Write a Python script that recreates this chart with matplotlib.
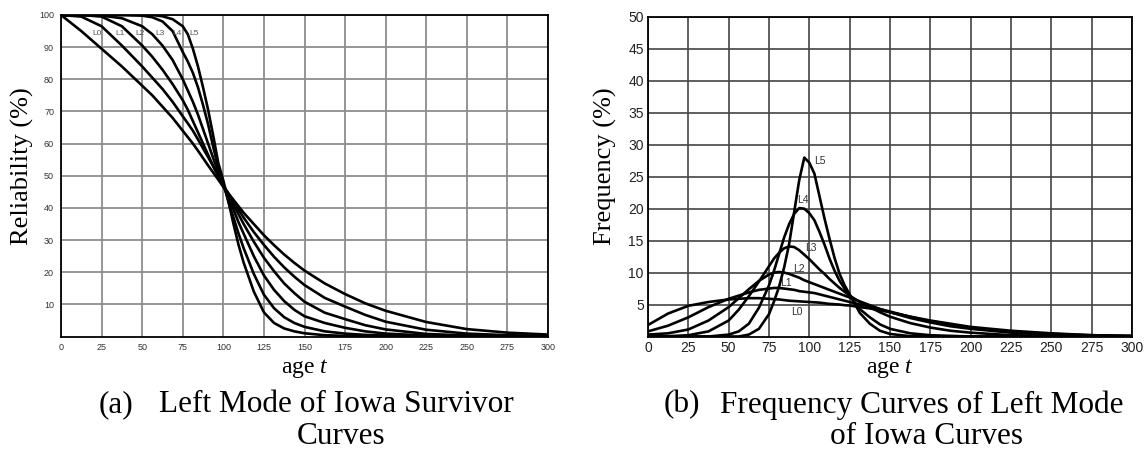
import matplotlib
matplotlib.use("Agg")
import matplotlib.pyplot as plt

# ---------------- data ----------------
# (a) survivor curves, reliability (%) vs age
age_s = [0, 12.5, 25, 37.5, 50, 56.25, 62.5, 68.75, 75, 78.125, 81.25, 84.375,
         87.5, 90.625, 93.75, 96.875, 100, 103.125, 106.25, 109.375, 112.5,
         118.75, 125, 131.25, 137.5, 143.75, 150, 162.5, 175, 187.5, 200,
         225, 250, 275, 300]
rel_L0 = [100, 95, 89.5, 84, 78, 75, 71.5, 68, 64, 62, 60, 57.8,
          55.5, 53.2, 51, 48.8, 46.5, 44.5, 42.5, 40.5, 38.5,
          35, 31.5, 28.4, 25.5, 22.9, 20.5, 16.5, 13.2, 10.3, 8,
          4.5, 2.3, 1.2, 0.6]
rel_L1 = [100, 99.5, 96.5, 90.5, 84, 80.5, 77, 73, 68.5, 66.3, 64, 61.3,
          58.5, 55.8, 53, 50, 47, 44.5, 42, 39.5, 37,
          32.5, 28.5, 24.8, 21.5, 18.6, 16, 12, 9.3, 6.7, 4.6,
          2.1, 0.9, 0.4, 0.2]
rel_L2 = [100, 100, 99.5, 96.5, 90.5, 87, 83, 78.5, 73.5, 70.5, 67, 63.5,
          60, 56.5, 53, 50, 47, 44, 41, 38, 35,
          29.5, 24.5, 20.3, 16.5, 13.5, 10.8, 7.4, 5.4, 3.5, 2.2,
          0.8, 0.3, 0.1, 0]
rel_L3 = [100, 100, 99.8, 99, 96.5, 94, 90.5, 86, 80, 76.5, 73, 69,
          64.5, 60, 55.5, 51, 47, 43, 39.5, 35.5, 32,
          25, 19, 14.5, 11, 8.3, 6.3, 4.2, 2.7, 1.6, 0.9,
          0.3, 0.1, 0, 0]
rel_L4 = [100, 100, 100, 100, 99.8, 99.3, 98, 95, 88.5, 85.5, 82, 77.5,
          72, 66, 59, 52.5, 47.5, 42, 37, 32, 27.5,
          19.5, 13, 8.8, 6, 4.2, 3, 1.6, 0.9, 0.5, 0.3,
          0.1, 0, 0, 0]
rel_L5 = [100, 100, 100, 100, 100, 100, 99.6, 98.7, 96.5, 94, 89.5, 84,
          77.5, 70.5, 62.5, 54, 48.5, 42, 35, 28.5, 23,
          14, 7.5, 4.2, 2.5, 1.6, 1.0, 0.4, 0.2, 0.1, 0,
          0, 0, 0, 0]

# (b) frequency curves, frequency (%) vs age
age_f = [0, 12.5, 25, 37.5, 50, 56.25, 62.5, 68.75, 75, 78.125, 81.25, 84.375,
         87.5, 90.625, 93.75, 96.875, 100, 103.125, 106.25, 109.375, 112.5,
         115.625, 118.75, 121.875, 125, 131.25, 137.5, 143.75, 150, 162.5,
         175, 187.5, 200, 225, 250, 275, 300]
freq_L0 = [1.8, 3.6, 4.8, 5.4, 5.8, 5.9, 6.0, 6.0, 5.9, 5.85, 5.8, 5.7,
           5.6, 5.55, 5.5, 5.45, 5.4, 5.35, 5.3, 5.2, 5.1,
           5.05, 5.0, 4.9, 4.85, 4.6, 4.4, 4.1, 3.8, 3.1,
           2.5, 2.0, 1.5, 0.9, 0.5, 0.2, 0.1]
freq_L1 = [0.8, 1.7, 3.0, 4.6, 5.9, 6.4, 6.9, 7.3, 7.5, 7.6, 7.6, 7.5,
           7.4, 7.3, 7.1, 7.0, 6.9, 6.8, 6.6, 6.4, 6.2,
           6.0, 5.8, 5.6, 5.4, 5.0, 4.7, 4.3, 3.9, 3.1,
           2.4, 1.8, 1.3, 0.7, 0.4, 0.2, 0.1]
freq_L2 = [0.3, 0.5, 1.1, 2.5, 4.6, 6.0, 7.4, 8.7, 9.7, 10.0, 10.1, 10.0,
           9.8, 9.5, 9.2, 8.8, 8.5, 8.2, 7.9, 7.6, 7.3,
           7.0, 6.7, 6.4, 6.1, 5.5, 4.9, 4.3, 3.8, 2.9,
           2.2, 1.6, 1.2, 0.6, 0.3, 0.1, 0]
freq_L3 = [0, 0.05, 0.2, 0.8, 2.5, 4.2, 6.3, 8.6, 11.0, 12.2, 13.1, 13.8,
           14.1, 14.0, 13.5, 12.8, 12.1, 11.3, 10.5, 9.8, 9.0,
           8.3, 7.6, 7.0, 6.4, 5.4, 4.6, 3.8, 3.1, 2.1,
           1.4, 0.9, 0.6, 0.2, 0.1, 0, 0]
freq_L4 = [0, 0, 0, 0, 0.3, 0.8, 2.0, 4.5, 8.0, 10.3, 12.9, 15.5,
           17.6, 19.2, 20.1, 20.0, 19.3, 18.2, 16.4, 14.4, 12.2,
           10.3, 8.7, 7.5, 6.4, 4.3, 3.0, 1.9, 1.2, 0.5,
           0.2, 0.1, 0, 0, 0, 0, 0]
freq_L5 = [0, 0, 0, 0, 0, 0, 0.3, 1.2, 3.5, 5.5, 7.8, 10.8,
           14.5, 19.5, 24.5, 28.0, 27.2, 25.5, 22.0, 18.5, 15.3,
           12.3, 9.8, 8.0, 6.6, 3.7, 2.0, 0.9, 0.4, 0.05,
           0, 0, 0, 0, 0, 0, 0]

curve_names = ["L0", "L1", "L2", "L3", "L4", "L5"]
rel_series = [rel_L0, rel_L1, rel_L2, rel_L3, rel_L4, rel_L5]
freq_series = [freq_L0, freq_L1, freq_L2, freq_L3, freq_L4, freq_L5]

# label anchor points (age, value)
rel_label_age = [22.4, 36.3, 48.6, 61, 71.6, 81.9]
rel_label_val = [94.2, 94.2, 94.2, 94.2, 94.2, 94.2]
freq_label_age = [92.2, 85.3, 93.6, 101, 96.3, 106.6]
freq_label_val = [3.8, 8.4, 10.5, 13.9, 21.3, 27.4]

x_ticks = list(range(0, 301, 25))
rel_yticks = list(range(10, 101, 10))
freq_yticks = list(range(5, 51, 5))

# ---------------- style ----------------
plt.rcParams["mathtext.fontset"] = "custom"
plt.rcParams["mathtext.rm"] = "Liberation Serif"
plt.rcParams["mathtext.it"] = "Liberation Serif:italic"
serif = "Liberation Serif"
sans = "Liberation Sans"

W, H = 1147, 451
fig = plt.figure(figsize=(W / 100, H / 100), dpi=100)
fig.patch.set_facecolor("white")


def fx(px):
    return px / W


def fy(py):
    return 1 - py / H


axL = fig.add_axes([fx(61), fy(336.5), (548 - 61) / W, (336.5 - 15) / H])
axR = fig.add_axes([fx(648), fy(336.5), (1132 - 648) / W, (336.5 - 17) / H])

# ---- left panel ----
for vals in rel_series:
    axL.plot(age_s, vals, color="black", lw=1.9, solid_joinstyle="round",
             solid_capstyle="round", zorder=3)
axL.set_xlim(0, 300)
axL.set_ylim(0, 100)
axL.set_xticks(x_ticks)
axL.set_yticks(rel_yticks)
axL.grid(True, color="#8c8c8c", lw=1.3, zorder=0)
axL.set_axisbelow(True)
axL.tick_params(length=0, labelsize=6.5, labelcolor="#333333", pad=5)
for lab in axL.get_xticklabels() + axL.get_yticklabels():
    lab.set_fontfamily(sans)
for s in axL.spines.values():
    s.set_color("black")
    s.set_linewidth(1.3)
for name, a, v in zip(curve_names, rel_label_age, rel_label_val):
    axL.text(a, v, name, fontsize=6, color="#555555", family=sans,
             ha="center", va="center", zorder=4)

# ---- right panel ----
for vals in freq_series:
    axR.plot(age_f, vals, color="black", lw=1.9, solid_joinstyle="round",
             solid_capstyle="round", zorder=3)
axR.set_xlim(0, 300)
axR.set_ylim(0, 50)
axR.set_xticks(x_ticks)
axR.set_yticks(freq_yticks)
axR.grid(True, color="#444444", lw=1.2, zorder=0)
axR.set_axisbelow(True)
axR.tick_params(length=0, labelsize=10, labelcolor="#222222", pad=3)
for lab in axR.get_xticklabels() + axR.get_yticklabels():
    lab.set_fontfamily(sans)
for s in axR.spines.values():
    s.set_color("black")
    s.set_linewidth(1.3)
for name, a, v in zip(curve_names, freq_label_age, freq_label_val):
    axR.text(a, v, name, fontsize=7.5, color="#333333", family=sans,
             ha="center", va="center", zorder=4)

# ---- axis titles ----
fig.text(fx(22), fy(166), "Reliability (%)", rotation=90, fontsize=19,
         family=serif, ha="center", va="center")
fig.text(fx(605), fy(166), "Frequency (%)", rotation=90, fontsize=19,
         family=serif, ha="center", va="center")
fig.text(fx(305), fy(368), "age $t$", fontsize=17, family=serif,
         ha="center", va="center")
fig.text(fx(890), fy(368), "age $t$", fontsize=17, family=serif,
         ha="center", va="center")

# ---- captions ----
cap_fs = 22.5
fig.text(fx(99), fy(405), "(a)", fontsize=cap_fs, family=serif, ha="left", va="center")
fig.text(fx(159), fy(405), "Left Mode of Iowa Survivor", fontsize=cap_fs,
         family=serif, ha="left", va="center")
fig.text(fx(341), fy(437), "Curves", fontsize=cap_fs, family=serif,
         ha="center", va="center")
fig.text(fx(664), fy(405), "(b)", fontsize=cap_fs, family=serif, ha="left", va="center")
fig.text(fx(720), fy(405), "Frequency Curves of Left Mode", fontsize=cap_fs,
         family=serif, ha="left", va="center")
fig.text(fx(927), fy(437), "of Iowa Curves", fontsize=cap_fs, family=serif,
         ha="center", va="center")

fig.savefig("out.png", dpi=100, facecolor="white")
